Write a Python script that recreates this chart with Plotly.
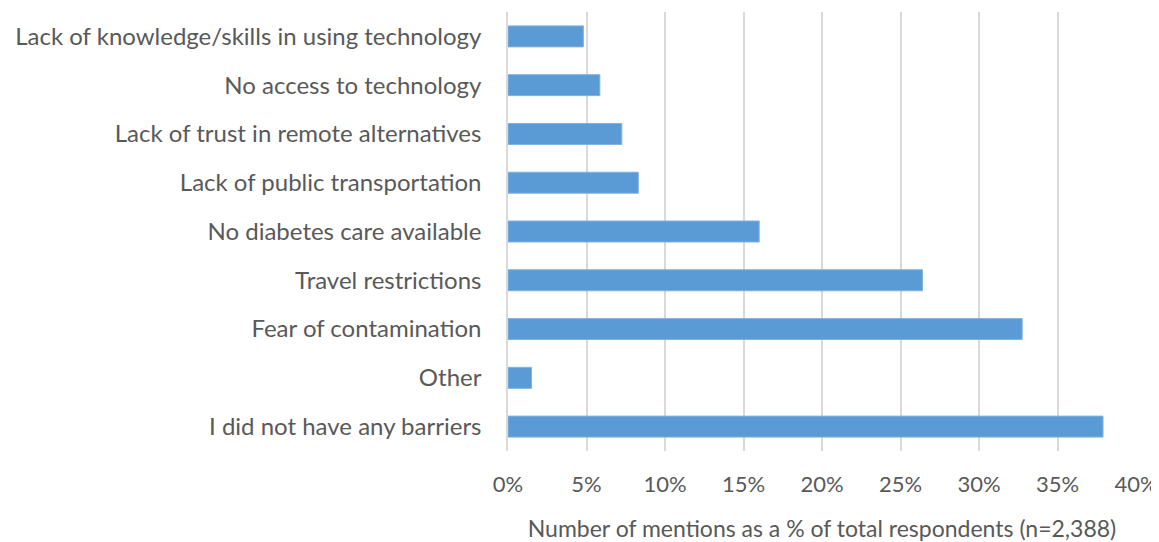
import plotly.graph_objects as go

# Barriers to diabetes care, top to bottom as shown
barriers = [
    "Lack of knowledge/skills in using technology",
    "No access to technology",
    "Lack of trust in remote alternatives",
    "Lack of public transportation",
    "No diabetes care available",
    "Travel restrictions",
    "Fear of contamination",
    "Other",
    "I did not have any barriers",
]
share_pct = [4.8, 5.85, 7.25, 8.3, 16.0, 26.4, 32.75, 1.5, 37.9]

tick_vals = [0, 5, 10, 15, 20, 25, 30, 35, 40]
tick_text = [f"{v}%" for v in tick_vals]

FONT = "Lato, 'Open Sans', sans-serif"
TEXT_COLOR = "#595959"

fig = go.Figure(go.Bar(
    x=share_pct,
    y=barriers,
    orientation="h",
    marker=dict(color="#5B9BD5", line=dict(color="#7FB2E0", width=1)),
    hovertemplate="%{y}: %{x:.1f}%<extra></extra>",
))

# page body adds ~8px margin, so the margins are shifted accordingly
fig.update_layout(
    width=1151,
    height=534,
    margin=dict(l=500, r=23, t=4, b=91),
    paper_bgcolor="white",
    plot_bgcolor="white",
    bargap=0.57,
    showlegend=False,
    font=dict(family=FONT, size=24, color=TEXT_COLOR),
)

fig.update_xaxes(
    range=[0, 40],
    tickvals=tick_vals,
    ticktext=tick_text,
    automargin=False,
    ticklabeloverflow="allow",
    showgrid=True,
    gridcolor="#D9D9D9",
    gridwidth=1.5,
    zeroline=False,
    showline=False,
    ticks="",
    ticklabelstandoff=18,
    tickfont=dict(size=22, color=TEXT_COLOR),
    title=dict(
        text="Number of mentions as a % of total respondents (n=2,388)",
        font=dict(size=23, color=TEXT_COLOR),
        standoff=25,
    ),
)

fig.update_yaxes(
    categoryorder="array",
    categoryarray=barriers,
    autorange="reversed",
    automargin=False,
    showgrid=False,
    showline=True,
    linecolor="#D9D9D9",
    linewidth=1.5,
    ticks="",
    ticklabelstandoff=20,
    tickfont=dict(size=24, color=TEXT_COLOR),
)

fig.write_html("out.html")
